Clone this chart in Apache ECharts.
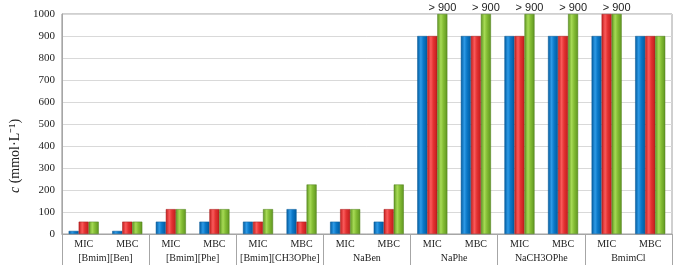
<!DOCTYPE html>
<html>
<head>
<meta charset="utf-8">
<script src="https://cdn.jsdelivr.net/npm/echarts@6/dist/echarts.min.js"></script>
<style>
  html, body { margin: 0; padding: 0; background: #fff; }
  #chart { width: 676px; height: 265px; }
</style>
</head>
<body>
<div id="chart"></div>
<script>
// two-level x axis: test (MIC/MBC) inside each compound
const groups = ['[Bmim][Ben]', '[Bmim][Phe]', '[Bmim][CH3OPhe]', 'NaBen', 'NaPhe', 'NaCH3OPhe', 'BmimCl'];
const tests = ['MIC', 'MBC'];
const yTicks = [0, 100, 200, 300, 400, 500, 600, 700, 800, 900, 1000];

// values in mmol/L, 14 per series (group × test)
const blueVals  = [14, 14, 56, 56, 56, 113, 56, 56, 900, 900, 900, 900, 900, 900];
const redVals   = [56, 56, 113, 113, 56, 56, 113, 113, 900, 900, 900, 900, 1000, 900];
const greenVals = [56, 56, 113, 113, 113, 225, 113, 225, 1000, 1000, 1000, 1000, 1000, 900];

// which bars carry the "> 900" note (index into greenVals)
const overNotes = [8, 9, 10, 11, 12];
const overText = '> 900';

const categories = [];
groups.forEach(() => tests.forEach(t => categories.push(t)));

const serif = '"Liberation Serif", "Times New Roman", serif';

function barGrad(dark, mid, light) {
  return new echarts.graphic.LinearGradient(0, 0, 1, 0, [
    { offset: 0, color: dark },
    { offset: 0.35, color: light },
    { offset: 0.6, color: mid },
    { offset: 1, color: dark },
  ]);
}

const chart = echarts.init(document.getElementById('chart'));
chart.setOption({
  animation: false,
  grid: { left: 50, right: 4, top: 14, bottom: 31, show: true, borderColor: '#a0a0a0', borderWidth: 1 },
  xAxis: [
    {
      type: 'category',
      data: categories,
      axisLine: { lineStyle: { color: '#a6a6a6' } },
      axisTick: { show: false },
      axisLabel: { interval: 0, fontFamily: serif, fontSize: 10, color: '#222', margin: 5 },
    },
    {
      type: 'category',
      data: groups,
      position: 'bottom',
      axisLine: { show: false },
      axisTick: { show: true, interval: 0, length: 32, lineStyle: { color: '#a6a6a6' } },
      axisLabel: { interval: 0, fontFamily: serif, fontSize: 10, color: '#222', margin: 19 },
    },
  ],
  yAxis: {
    type: 'value',
    min: 0,
    max: 1000,
    interval: 100,
    name: '{i|c} (mmol·L⁻¹)',
    nameLocation: 'middle',
    nameGap: 38,
    nameTextStyle: {
      fontFamily: serif, fontSize: 14, color: '#222', padding: [0, 64, 0, 0],
      rich: { i: { fontFamily: serif, fontSize: 14, fontStyle: 'italic', color: '#222' } },
    },
    axisLine: { show: true, lineStyle: { color: '#a6a6a6' } },
    axisTick: { show: false },
    axisLabel: {
      fontFamily: serif, fontSize: 11, color: '#222', margin: 7,
      formatter: v => (yTicks.includes(v) ? String(v) : ''),
    },
    splitLine: { lineStyle: { color: '#d9d9d9' } },
  },
  series: [
    {
      type: 'bar', data: blueVals, barGap: '0%', barCategoryGap: '31%',
      itemStyle: { color: barGrad('#005a9e', '#0a78c8', '#2e9ae6'), borderColor: '#0a5a96', borderWidth: 0.5 },
    },
    {
      type: 'bar', data: redVals, barGap: '0%', barCategoryGap: '31%',
      itemStyle: { color: barGrad('#c01c1c', '#e33232', '#fa5a5a'), borderColor: '#a01818', borderWidth: 0.5 },
    },
    {
      type: 'bar', barGap: '0%', barCategoryGap: '31%',
      data: greenVals.map((v, i) => overNotes.includes(i)
        ? { value: v, label: { show: true, formatter: overText } }
        : v),
      label: {
        show: false, position: 'top', distance: 1,
        fontFamily: '"Liberation Sans", Arial, sans-serif', fontSize: 11, color: '#222',
      },
      itemStyle: { color: barGrad('#5e9420', '#84bd34', '#a6da55'), borderColor: '#4e7e1a', borderWidth: 0.5 },
    },
  ],
});
</script>
</body>
</html>
